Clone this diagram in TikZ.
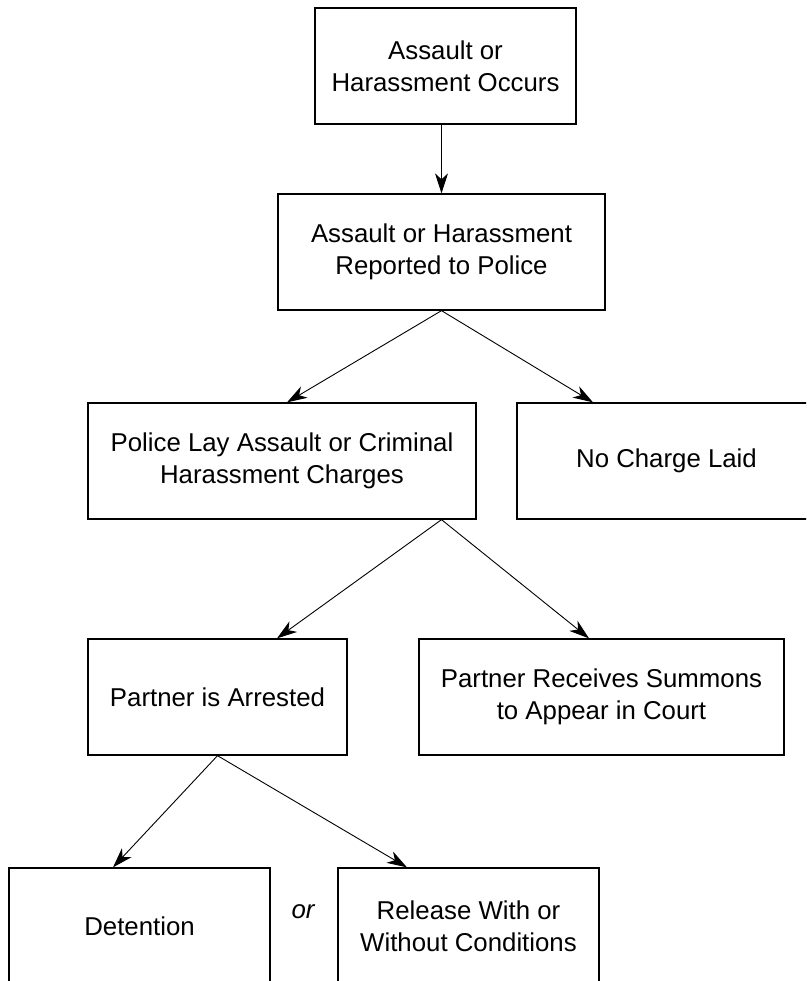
\documentclass[tikz,border=0pt]{standalone}
\usepackage{fontspec}
\setmainfont{Liberation Sans}
\usetikzlibrary{arrows.meta}

\tikzset{
  stage/.style={draw, line width=1.3pt, align=center, inner sep=0pt,
    minimum height=116pt, font=\fontsize{25.8}{32}\selectfont},
}

\begin{document}
\begin{tikzpicture}[x=1pt,y=-1pt,line width=0.9pt,-{Stealth[length=20pt,width=13pt,inset=6pt]}]
\useasboundingbox (0,0) rectangle (806,981);
\clip (0,0) rectangle (806,981);

\node[stage, minimum width=261pt] (OC) at (445.5,66) {Assault or\\Harassment Occurs};
\node[stage, minimum width=327pt] (RP) at (441.5,252) {Assault or Harassment\\Reported to Police};

\node[stage, minimum width=388pt] (CH) at (282,461) {Police Lay Assault or Criminal\\Harassment Charges};
\node[stage, minimum width=299pt] (NC) at (666.5,461) {No Charge Laid};

\node[stage, minimum width=259pt] (AR) at (217.5,697) {Partner is Arrested};
\node[stage, minimum width=365pt] (SU) at (601.5,697) {Partner Receives Summons\\to Appear in Court};

\node[stage, minimum width=261pt] (DE) at (139.5,926) {Detention};
\node[stage, minimum width=261pt] (RE) at (468.5,926) {Release With or\\Without Conditions};
\node[font=\fontsize{25.8}{32}\selectfont\itshape] (OR) at (303,912) {or};

\draw (RP.north |- OC.south) to (RP.north);
\draw (RP.south) to ([xshift=5pt]CH.north);
\draw (RP.south) to ([xshift=-73.5pt]NC.north);
\draw (RP.south |- CH.south) to ([xshift=59.5pt]AR.north);
\draw (RP.south |- CH.south) to ([xshift=-12.5pt]SU.north);
\draw (AR.south) to ([xshift=-26.5pt]DE.north);
\draw (AR.south) to ([xshift=-61.5pt]RE.north);

\end{tikzpicture}
\end{document}
